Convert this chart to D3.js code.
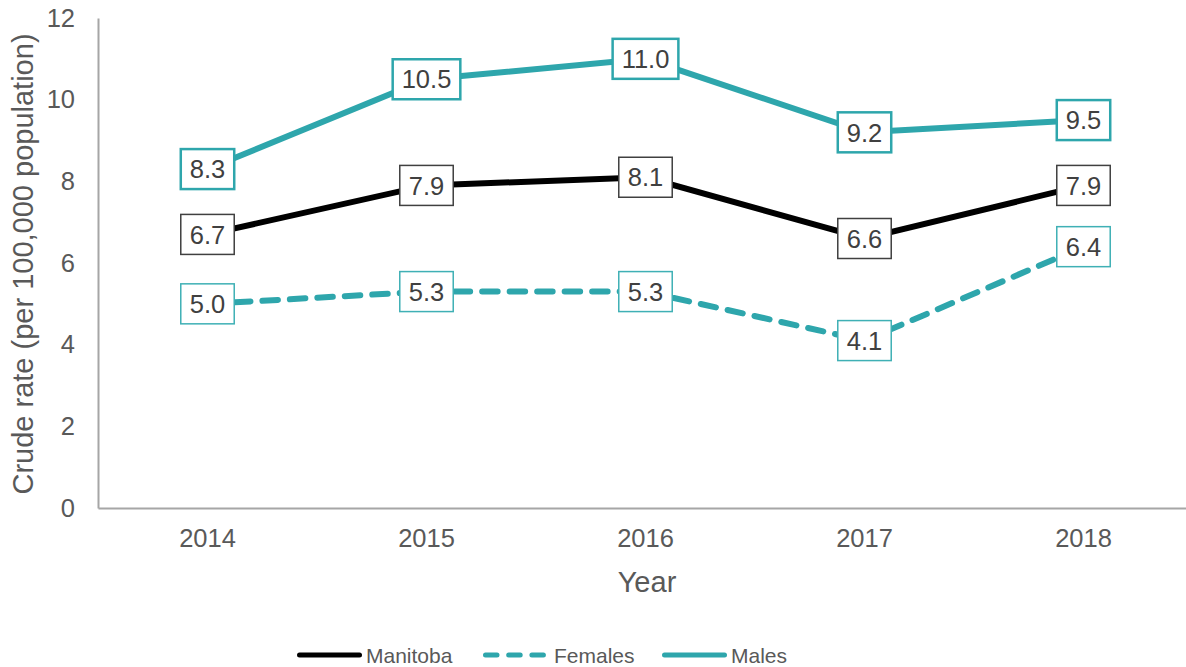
<!DOCTYPE html>
<html>
<head>
<meta charset="utf-8">
<script src="https://cdn.jsdelivr.net/npm/d3@7"></script>
<style>
  body { margin: 0; background: #fff; }
  text { font-family: "Liberation Sans", Arial, sans-serif; }
</style>
</head>
<body>
<svg width="1186" height="667"></svg>
<script>
// chart data
const years = ['2014', '2015', '2016', '2017', '2018'];
const manitoba = [6.7, 7.9, 8.1, 6.6, 7.9];
const females = [5.0, 5.3, 5.3, 4.1, 6.4];
const males = [8.3, 10.5, 11.0, 9.2, 9.5];
const yTicks = [0, 2, 4, 6, 8, 10, 12];

const teal = '#2ea6ac';
const grey = '#595959';

const series = [
  { name: 'Manitoba', values: manitoba, color: '#000', box: '#404040', boxW: 1.5, dash: null },
  { name: 'Females', values: females, color: teal, box: '#3fb0b5', boxW: 1.5, dash: '15.5 12' },
  { name: 'Males', values: males, color: teal, box: teal, boxW: 2.5, dash: null }
];

const svg = d3.select('svg');

const x = d3.scaleBand().domain(years).range([98, 1193]);
const y = d3.scaleLinear().domain([0, 12]).range([508, 18]);
const cx = d => x(d) + x.bandwidth() / 2;

// axes
const yAxis = svg.append('g')
  .attr('transform', 'translate(98,0)')
  .call(d3.axisLeft(y).tickValues(yTicks).tickSize(0).tickPadding(23));
yAxis.select('.domain').attr('stroke', '#a6a6a6').attr('stroke-width', 2);
yAxis.selectAll('text').attr('fill', grey).style('font-size', '25.5px')
  .style('font-family', '"Liberation Sans", Arial, sans-serif');

const xAxis = svg.append('g')
  .attr('transform', 'translate(0,508)')
  .call(d3.axisBottom(x).tickSize(0).tickPadding(21));
xAxis.select('.domain').attr('stroke', '#a6a6a6').attr('stroke-width', 2);
xAxis.selectAll('text').attr('fill', grey).style('font-size', '25.5px')
  .style('font-family', '"Liberation Sans", Arial, sans-serif');

// axis titles
svg.append('text')
  .attr('transform', 'translate(33,264) rotate(-90)')
  .attr('text-anchor', 'middle')
  .attr('fill', grey)
  .style('font-size', '29px')
  .text('Crude rate (per 100,000 population)');

svg.append('text')
  .attr('x', 647).attr('y', 592)
  .attr('text-anchor', 'middle')
  .attr('fill', grey)
  .style('font-size', '29px')
  .text('Year');

// lines
const line = d3.line()
  .x((d, i) => cx(years[i]))
  .y(d => y(d));

series.forEach(s => {
  svg.append('path')
    .datum(s.values)
    .attr('d', line)
    .attr('fill', 'none')
    .attr('stroke', s.color)
    .attr('stroke-width', 6)
    .attr('stroke-linecap', 'round')
    .attr('stroke-dasharray', s.dash);
});

// value labels in boxes
series.forEach(s => {
  const lg = svg.append('g');
  s.values.forEach((v, i) => {
    const g = lg.append('g')
      .attr('transform', `translate(${cx(years[i])},${y(v)})`);
    const t = g.append('text')
      .attr('text-anchor', 'middle')
      .attr('dy', '0.36em')
      .attr('fill', '#404040')
      .style('font-size', '25.5px')
      .text(v.toFixed(1));
    const w = t.node().getComputedTextLength() + 18;
    g.insert('rect', 'text')
      .attr('x', -w / 2).attr('y', -20)
      .attr('width', w).attr('height', 40)
      .attr('fill', '#fff')
      .attr('stroke', s.box)
      .attr('stroke-width', s.boxW);
  });
});

// legend
const legendX = [297, 483, 662];
series.forEach((s, i) => {
  const g = svg.append('g').attr('transform', `translate(${legendX[i]},655)`);
  g.append('line')
    .attr('x1', 2.5).attr('x2', 62.5)
    .attr('stroke', s.color)
    .attr('stroke-width', 5)
    .attr('stroke-linecap', 'round')
    .attr('stroke-dasharray', s.dash ? '11.5 11.7' : null);
  g.append('text')
    .attr('x', s.dash ? 71 : 69)
    .attr('dy', '0.36em')
    .attr('fill', grey)
    .style('font-size', '21px')
    .text(s.name);
});
</script>
</body>
</html>
